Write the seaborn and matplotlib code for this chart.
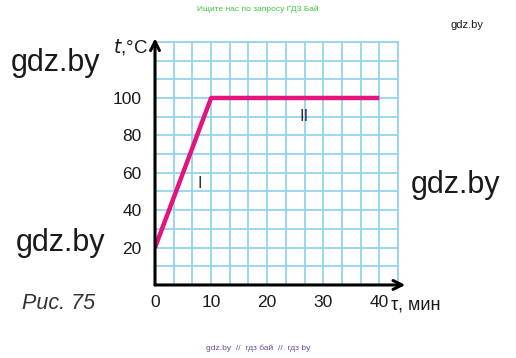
import numpy as np
import pandas as pd
import matplotlib
matplotlib.use("Agg")
import matplotlib.pyplot as plt
import seaborn as sns

# heating curve: time (min) vs temperature (deg C)
time_min = [0, 10, 40]
temp_c = [20, 100, 100]
x_ticks = [0, 10, 20, 30, 40]
y_ticks = [20, 40, 60, 80, 100]
segment_labels = ["I", "II"]
segment_pos_x = [8, 26.5]
segment_pos_y = [54, 90]

sns.set_style("white")
plt.rcParams["font.family"] = ["Liberation Sans", "DejaVu Sans"]

grid_color = "#93d4ec"
line_color = "#e2147f"
text_color = "#1a1a1a"

fig = plt.figure(figsize=(5.16, 3.58), dpi=100)
ax = fig.add_axes([0.3004, 0.204, 0.471, 0.679])

df = pd.DataFrame({"time": time_min, "temp": temp_c})
sns.lineplot(data=df, x="time", y="temp", ax=ax, color=line_color,
             linewidth=3.2, solid_capstyle="butt", zorder=5)

ax.set_xlim(0, 130 / 3)
ax.set_ylim(0, 130)

# square grid: 10/3 min by 10 deg
ax.set_xticks(x_ticks)
ax.set_yticks(y_ticks)
ax.set_xticks(np.arange(0, 131, 10) / 3, minor=True)
ax.set_yticks(np.arange(0, 131, 10), minor=True)
ax.grid(True, which="both", color=grid_color, linewidth=1.3, zorder=0)
ax.set_axisbelow(True)

ax.set_xticklabels([str(v) for v in x_ticks], fontsize=12.5, color=text_color)
ax.set_yticklabels([str(v) for v in y_ticks], fontsize=12.5, color=text_color)
ax.tick_params(axis="both", which="major", direction="inout", length=9,
               width=1.5, color="black", pad=5)
ax.tick_params(axis="x", which="major", direction="in", length=6, pad=7)
ax.tick_params(which="minor", length=0)
ax.set_xlabel("")
ax.set_ylabel("")

for side in ["top", "right"]:
    ax.spines[side].set_color(grid_color)
    ax.spines[side].set_linewidth(1.3)
for side in ["left", "bottom"]:
    ax.spines[side].set_visible(False)

# axes with arrows
ax.annotate("", xy=(1.03, 0), xytext=(0, 0), xycoords="axes fraction",
            arrowprops=dict(arrowstyle="->", lw=2.2, color="black",
                            mutation_scale=16, shrinkA=0, shrinkB=0), zorder=6)
ax.annotate("", xy=(0, 1.015), xytext=(0, 0), xycoords="axes fraction",
            arrowprops=dict(arrowstyle="->", lw=2.2, color="black",
                            mutation_scale=16, shrinkA=0, shrinkB=0), zorder=6)

for lab, lx, ly in zip(segment_labels, segment_pos_x, segment_pos_y):
    ax.text(lx, ly, lab, fontsize=12, ha="center", va="center", color="#333333")

# axis captions
fig.text(0.253, 0.868, "$t$,°C", fontsize=13.5, ha="center", va="center",
         color=text_color)
fig.text(0.758, 0.148, "τ, мин", fontsize=13, ha="left", va="center",
         color=text_color)
fig.text(0.042, 0.153, "Рис. 75", fontsize=15.5, style="italic",
         ha="left", va="center", color="#333333")

# watermarks
fig.text(0.5, 0.975, "Ищите нас по запросу ГДЗ Бай", fontsize=6,
         color="#3ec83e", ha="center", va="center")
fig.text(0.905, 0.93, "gdz.by", fontsize=8, ha="center", va="center",
         color=text_color)
fig.text(0.107, 0.825, "gdz.by", fontsize=22, ha="center", va="center",
         color=text_color)
fig.text(0.117, 0.322, "gdz.by", fontsize=22, ha="center", va="center",
         color=text_color)
fig.text(0.882, 0.482, "gdz.by", fontsize=22, ha="center", va="center",
         color=text_color)
fig.text(0.5, 0.026, "gdz.by  //  гдз бай  //  гдз by", fontsize=6,
         color="#6a4c93", ha="center", va="center")

fig.savefig("out.png", dpi=100)
